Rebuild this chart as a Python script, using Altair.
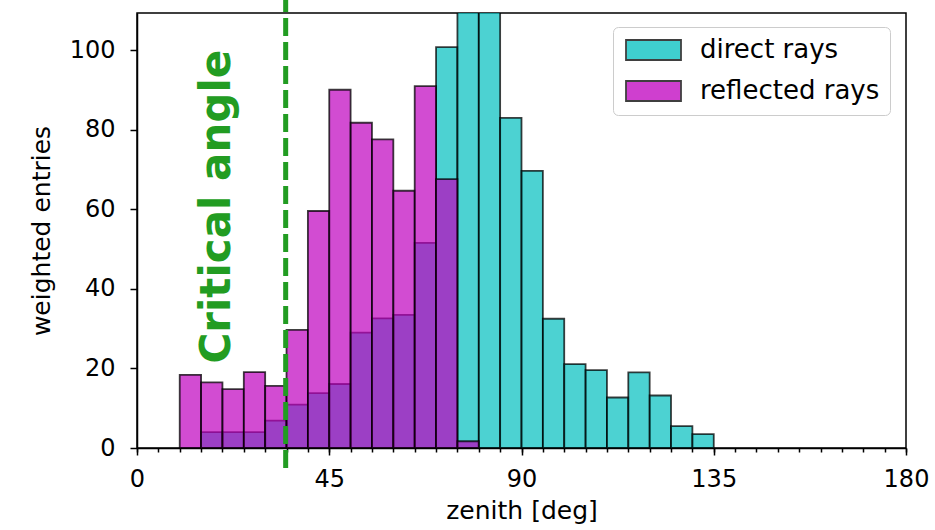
import altair as alt
import pandas as pd

# --- data ---
bin_lo = list(range(10, 135, 5))  # 5-degree bins from 10 to 135
direct_rays = [0, 4.0, 4.0, 4.0, 6.9, 10.9, 13.8, 16.1, 29.0, 32.6, 33.5, 51.6,
               100.8, 125.0, 118.0, 83.0, 69.7, 32.5, 21.1, 19.6, 12.7, 19.0,
               13.2, 5.5, 3.5]
reflected_rays = [18.4, 16.5, 14.8, 19.1, 15.6, 29.7, 59.6, 90.1, 81.8, 77.6,
                  64.7, 91.0, 67.6, 1.7, 0, 0, 0, 0, 0, 0, 0, 0, 0, 0, 0]
series_names = ["direct rays", "reflected rays"]
series_colors = ["#00bfbf", "#bf00bf"]
critical_angle = 34.8
x_major = [0, 45, 90, 135, 180]
x_minor = list(range(0, 181, 5))
y_major = [0, 20, 40, 60, 80, 100]

BIN_W = 5
FONT = "DejaVu Sans"
GREEN = "#229c22"


def table(values, name):
    rows = []
    for lo, v in zip(bin_lo, values):
        if v > 0:
            rows.append({"lo": lo, "hi": lo + BIN_W, "base": 0, "count": v, "series": name})
    return pd.DataFrame(rows)


df_direct = table(direct_rays, series_names[0])
df_refl = table(reflected_rays, series_names[1])

xscale = alt.Scale(domain=[0, 180], nice=False, zero=False)
yscale = alt.Scale(domain=[0, 109.4], nice=False)
fillscale = alt.Scale(domain=series_names, range=series_colors)

legend = alt.Legend(
    title=None,
    orient="none",
    legendX=476,
    legendY=14,
    symbolType="M-1,-1L4.5,-1L4.5,1L-1,1Z",
    symbolSize=400,
    symbolStrokeColor="black",
    symbolStrokeWidth=1.8,
    symbolOpacity=0.75,
    labelFont=FONT,
    labelFontSize=26,
    labelColor="black",
    labelOffset=51,
    rowPadding=13,
    padding=10,
    strokeColor="#cccccc",
    fillColor="white",
    cornerRadius=5,
    labelLimit=400,
)

major_x_axis = alt.Axis(
    values=x_major, title="zenith [deg]", grid=False, tickSize=7,
    labelPadding=12, titlePadding=7, orient="bottom", labelFlush=False,
    labelAngle=0,
)
y_axis = alt.Axis(
    values=y_major, title="weighted entries", grid=False, tickSize=7,
    labelPadding=15, titlePadding=15,
)

bar_style = dict(fillOpacity=0.7, stroke="black", strokeOpacity=0.75,
                 strokeWidth=1.8, clip=True)

bars_direct = alt.Chart(df_direct).mark_bar(**bar_style).encode(
    x=alt.X("lo:Q", scale=xscale, axis=major_x_axis),
    x2="hi:Q",
    y=alt.Y("count:Q", scale=yscale, axis=y_axis),
    y2="base:Q",
    fill=alt.Fill("series:N", scale=fillscale, legend=legend),
)

bars_refl = alt.Chart(df_refl).mark_bar(**bar_style).encode(
    x=alt.X("lo:Q", scale=xscale, axis=None),
    x2="hi:Q",
    y=alt.Y("count:Q", scale=yscale, axis=None),
    y2="base:Q",
    fill=alt.Fill("series:N", scale=fillscale, legend=legend),
)

df_line = pd.DataFrame({"x": [critical_angle], "y0": [-5], "y1": [115]})
crit_line = alt.Chart(df_line).mark_rule(
    color=GREEN, strokeWidth=5, strokeDash=[18, 6]
).encode(
    x=alt.X("x:Q", scale=xscale,
            axis=alt.Axis(values=x_minor, labels=False, domain=False, grid=False,
                          tickSize=4, title=None, orient="bottom")),
    y=alt.Y("y0:Q", scale=yscale, axis=None),
    y2="y1:Q",
)

df_text = pd.DataFrame({"x": [21.8], "y": [60.7], "t": ["Critical angle"]})
crit_text = alt.Chart(df_text).mark_text(
    angle=270, font=FONT, fontWeight="bold", fontSize=42, color=GREEN,
    align="center", baseline="alphabetic"
).encode(
    x=alt.X("x:Q", scale=xscale, axis=None),
    y=alt.Y("y:Q", scale=yscale, axis=None),
    text="t:N",
)

chart = alt.layer(bars_direct, bars_refl, crit_line, crit_text).resolve_axis(
    x="independent", y="independent"
).properties(
    width=769,
    height=435,
    padding={"left": 137, "top": 13, "right": 29, "bottom": 82},
    autosize=alt.AutoSizeParams(type="none"),
    background="white",
).configure_view(
    stroke="black", strokeWidth=1.5
).configure_axis(
    domainColor="black", domainWidth=1.5, tickColor="black", tickWidth=1.5,
    labelFont=FONT, labelFontSize=24, labelColor="black",
    titleFont=FONT, titleFontSize=25, titleFontWeight="normal", titleColor="black",
)

chart.save("out.html", embed_options={"renderer": "svg", "actions": False})
